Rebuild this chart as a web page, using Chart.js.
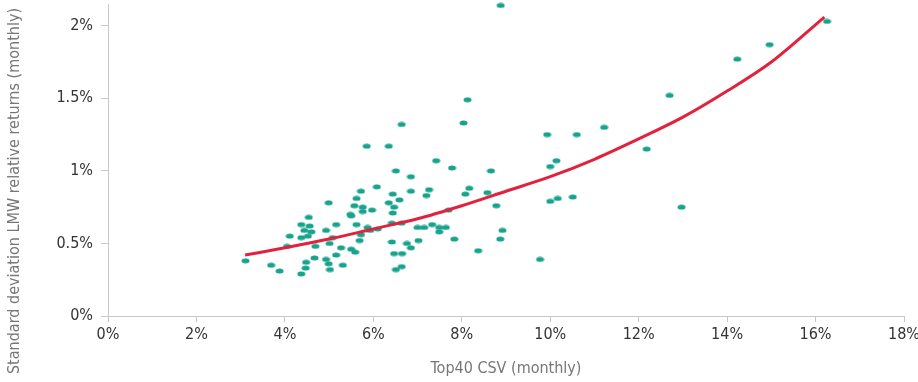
<!DOCTYPE html>
<html>
<head>
<meta charset="utf-8">
<script src="https://cdn.jsdelivr.net/npm/chart.js@4/dist/chart.umd.min.js"></script>
<style>
  html, body { margin: 0; padding: 0; background: #fff; }
  #wrap { width: 918px; height: 382px; position: relative; }
</style>
</head>
<body>
<div id="wrap"><canvas id="chart"></canvas></div>
<script>
// scatter points: Top40 CSV (monthly) vs std dev of LMW relative returns, both in %
const csvX = [
  3.11, 3.69, 3.88, 4.05, 4.11, 4.37, 4.54, 4.56, 4.44, 4.60, 4.52, 4.37, 4.69, 4.67, 4.48, 4.47, 4.37,
  4.99, 4.93, 5.16, 5.08, 5.01, 5.27, 5.16, 4.93, 4.99, 5.31, 5.02, 5.50, 5.59, 5.48, 5.50, 5.57, 5.62,
  5.72, 5.76, 5.76, 6.08, 5.97, 5.62, 5.87, 5.93, 6.10, 5.72, 5.69, 5.85, 6.35, 6.64, 6.51, 6.85, 7.26,
  6.85, 6.44, 7.20, 6.59, 6.35, 6.47, 6.44, 6.42, 6.64, 7.00, 7.15, 7.33, 7.49, 7.64, 7.49, 7.02, 6.42,
  6.76, 6.85, 6.47, 6.65, 6.64, 6.51, 7.42, 7.78, 8.66, 8.17, 8.08, 8.58, 8.78, 7.70, 7.83, 8.92, 8.87,
  8.37, 8.88, 8.13, 8.04, 9.93, 10.60, 11.22, 12.18, 10.14, 10.00, 10.00, 10.17, 10.51, 12.97, 9.77,
  16.26, 14.96, 14.23, 12.70
];
const stdevY = [
  0.38, 0.35, 0.31, 0.48, 0.55, 0.63, 0.68, 0.62, 0.59, 0.58, 0.55, 0.54, 0.48, 0.40, 0.37, 0.33, 0.29,
  0.78, 0.59, 0.63, 0.54, 0.50, 0.47, 0.42, 0.39, 0.36, 0.35, 0.32, 0.46, 0.44, 0.70, 0.69, 0.76, 0.81,
  0.86, 0.75, 0.72, 0.89, 0.73, 0.63, 0.61, 0.59, 0.60, 0.56, 0.52, 1.17, 1.17, 1.32, 1.00, 0.96, 0.87,
  0.86, 0.84, 0.83, 0.80, 0.78, 0.75, 0.71, 0.64, 0.64, 0.61, 0.61, 0.63, 0.61, 0.61, 0.58, 0.52, 0.51,
  0.50, 0.47, 0.43, 0.43, 0.34, 0.32, 1.07, 1.02, 1.00, 0.88, 0.84, 0.85, 0.76, 0.73, 0.53, 0.59, 0.53,
  0.45, 2.14, 1.49, 1.33, 1.25, 1.25, 1.30, 1.15, 1.07, 1.03, 0.79, 0.81, 0.82, 0.75, 0.39,
  2.03, 1.87, 1.77, 1.52
];

// trend curve
const trendX = [3.1, 4, 5, 6, 7, 8, 9, 10, 11, 12, 13, 14, 15, 16.2];
const trendY = [0.42, 0.47, 0.53, 0.60, 0.67, 0.76, 0.86, 0.96, 1.08, 1.22, 1.37, 1.55, 1.75, 2.06];

const xTicks = [0, 2, 4, 6, 8, 10, 12, 14, 16, 18];
const yTicks = [0, 0.5, 1, 1.5, 2];

const xTitle = "Top40 CSV (monthly)";
const yTitle = "Standard deviation LMW relative returns (monthly)";

const FONT = "'Liberation Sans Narrow', 'DejaVu Sans Condensed', 'Roboto', sans-serif";
const TEAL = "#17a38c";
const RED = "#e2213d";
const AXIS = "#c8c8c8";

// small flat ellipse used as point marker
function makeDot() {
  const c = document.createElement("canvas");
  c.width = 9;
  c.height = 6;
  const g = c.getContext("2d");
  g.fillStyle = TEAL;
  g.beginPath();
  g.ellipse(4.5, 3, 4, 2.5, 0, 0, Math.PI * 2);
  g.fill();
  return c;
}

const yTitlePlugin = {
  id: "yTitle",
  afterDraw(chart) {
    const ctx = chart.ctx;
    ctx.save();
    ctx.translate(15, 191);
    ctx.rotate(-Math.PI / 2);
    ctx.font = "16px " + FONT;
    ctx.fillStyle = "#777";
    ctx.textAlign = "center";
    ctx.textBaseline = "middle";
    ctx.fillText(yTitle, 0, 0);
    ctx.restore();
  },
};

Chart.defaults.font.family = FONT;

new Chart(document.getElementById("chart"), {
  type: "scatter",
  data: {
    datasets: [
      {
        label: "trend",
        data: trendX.map((x, i) => ({ x, y: trendY[i] })),
        showLine: true,
        borderColor: RED,
        borderWidth: 3,
        pointRadius: 0,
        cubicInterpolationMode: "monotone",
        fill: false,
        clip: false,
      },
      {
        label: "funds",
        data: csvX.map((x, i) => ({ x, y: stdevY[i] })),
        pointStyle: makeDot(),
        pointRadius: 4,
        backgroundColor: TEAL,
        borderWidth: 0,
        clip: false,
      },
    ],
  },
  options: {
    responsive: true,
    maintainAspectRatio: false,
    animation: false,
    layout: { padding: { top: 0, right: 14, left: 0, bottom: 0 } },
    plugins: { legend: { display: false }, tooltip: { enabled: false } },
    scales: {
      x: {
        type: "linear",
        min: 0,
        max: 18,
        afterBuildTicks: (s) => { s.ticks = xTicks.map((v) => ({ value: v })); },
        afterFit: (s) => {
          s.height = 66;
          s.paddingLeft = 0;
          s.paddingRight = 0;
        },
        border: { color: AXIS, width: 1 },
        grid: { drawOnChartArea: false, drawTicks: true, tickLength: 6, color: AXIS },
        ticks: {
          color: "#333",
          font: { size: 16 },
          padding: 3,
          maxRotation: 0,
          callback: (v) => v + "%",
        },
        title: {
          display: true,
          text: xTitle,
          color: "#777",
          font: { size: 16 },
          padding: { top: 0, bottom: 4 },
        },
      },
      y: {
        type: "linear",
        min: 0,
        max: 2.15,
        afterBuildTicks: (s) => { s.ticks = yTicks.map((v) => ({ value: v })); },
        afterFit: (s) => {
          s.width = 108;
          s.paddingTop = 0;
          s.paddingBottom = 0;
        },
        border: { color: AXIS, width: 1 },
        grid: { drawOnChartArea: false, drawTicks: true, tickLength: 7, color: AXIS },
        ticks: {
          color: "#333",
          font: { size: 16 },
          padding: 8,
          callback: (v) => v + "%",
        },
      },
    },
  },
  plugins: [yTitlePlugin],
});
</script>
</body>
</html>
